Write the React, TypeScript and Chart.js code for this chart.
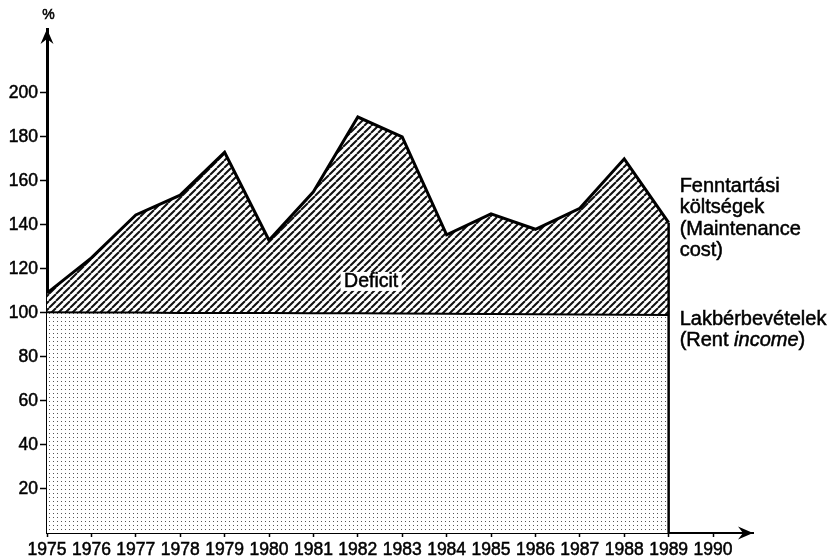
import React, { useEffect, useRef } from "react";
import { Chart, registerables } from "chart.js";

Chart.register(...registerables);

// ---- data ----
const years = [1975, 1976, 1977, 1978, 1979, 1980, 1981, 1982, 1983, 1984, 1985, 1986, 1987, 1988, 1989];
const maintenanceCost = [109, 125, 144.5, 153.5, 173, 133, 155, 189, 180, 135.5, 145, 138, 147.5, 170, 141];
const rentIncome = [100.3, 100.2, 100.2, 100, 100, 100, 99.8, 99.8, 99.7, 99.6, 99.5, 99.4, 99.3, 99.2, 99];
const xTickLabels = [1975, 1976, 1977, 1978, 1979, 1980, 1981, 1982, 1983, 1984, 1985, 1986, 1987, 1988, 1989, 1990];
const yTickLabels = [20, 40, 60, 80, 100, 120, 140, 160, 180, 200];

const maintenanceLabel = ["Fenntartási", "költségek", "(Maintenance", "cost)"];
const rentLabel = "Lakbérbevételek";
const deficitLabel = "Deficit";
const deficitAt = { x: 1982.3, y: 114.3 };

const FONT = "'Liberation Sans', Arial, Helvetica, sans-serif";
const STROKE = 0.5;

function makeHatch(ctx: CanvasRenderingContext2D) {
  const s = 7;
  const c = document.createElement("canvas");
  c.width = s;
  c.height = s;
  const g = c.getContext("2d")!;
  g.fillStyle = "#fff";
  g.fillRect(0, 0, s, s);
  g.strokeStyle = "#111";
  g.lineWidth = 2;
  g.beginPath();
  for (let k = -1; k <= 1; k++) {
    g.moveTo(k * s, s);
    g.lineTo(k * s + s, 0);
  }
  g.stroke();
  return ctx.createPattern(c, "repeat")!;
}

function makeDots(ctx: CanvasRenderingContext2D) {
  const s = 4;
  const c = document.createElement("canvas");
  c.width = s;
  c.height = s;
  const g = c.getContext("2d")!;
  g.fillStyle = "#fff";
  g.fillRect(0, 0, s, s);
  g.fillStyle = "#555";
  g.fillRect(1, 1, 1, 1);
  return ctx.createPattern(c, "repeat")!;
}

function boldText(ctx: CanvasRenderingContext2D, t: string, x: number, y: number) {
  ctx.fillText(t, x, y);
  ctx.lineWidth = STROKE;
  ctx.strokeStyle = "#000";
  ctx.strokeText(t, x, y);
}

const decorPlugin = {
  id: "decor",
  afterDatasetsDraw(chart: any) {
    const { ctx, scales } = chart;
    const xs = scales.x;
    const ys = scales.y;
    const last = years.length - 1;
    const xl = xs.getPixelForValue(years[last]);
    ctx.save();
    // right edge vertical line
    ctx.strokeStyle = "#000";
    ctx.lineWidth = 2.5;
    ctx.beginPath();
    ctx.moveTo(xl, ys.getPixelForValue(0));
    ctx.lineTo(xl, ys.getPixelForValue(maintenanceCost[last]));
    ctx.stroke();

    // Deficit label with white box
    ctx.font = `19.5px ${FONT}`;
    const dx = xs.getPixelForValue(deficitAt.x);
    const dy = ys.getPixelForValue(deficitAt.y);
    const w = ctx.measureText(deficitLabel).width;
    ctx.fillStyle = "#fff";
    ctx.fillRect(dx - w / 2 - 3.5, dy - 9.5, w + 7, 19);
    ctx.fillStyle = "#000";
    ctx.textAlign = "center";
    ctx.textBaseline = "middle";
    boldText(ctx, deficitLabel, dx, dy + 0.5);

    // right-side labels
    ctx.textAlign = "left";
    ctx.font = `20px ${FONT}`;
    const lx = xl + 11;
    const my = ys.getPixelForValue(maintenanceCost[last]) - 36;
    maintenanceLabel.forEach((t, i) => boldText(ctx, t, lx, my + i * 21.3));
    const ry = ys.getPixelForValue(rentIncome[last]) + 4;
    boldText(ctx, rentLabel, lx, ry);
    let cx = lx;
    const parts: [string, string][] = [
      ["(Rent ", "normal"],
      ["income", "italic"],
      [")", "normal"],
    ];
    for (const [t, st] of parts) {
      ctx.font = `${st} 20px ${FONT}`;
      boldText(ctx, t, cx, ry + 21);
      cx += ctx.measureText(t).width;
    }
    ctx.restore();
  },
  afterDraw(chart: any) {
    const { ctx, chartArea } = chart;
    const { left, top, right, bottom } = chartArea;
    ctx.save();
    ctx.fillStyle = "#000";
    // y arrow
    ctx.beginPath();
    ctx.moveTo(left, top);
    ctx.lineTo(left - 6.5, top + 15);
    ctx.lineTo(left, top + 10);
    ctx.lineTo(left + 6.5, top + 15);
    ctx.closePath();
    ctx.fill();
    // x arrow
    ctx.beginPath();
    ctx.moveTo(right, bottom);
    ctx.lineTo(right - 15, bottom - 6.5);
    ctx.lineTo(right - 10, bottom);
    ctx.lineTo(right - 15, bottom + 6.5);
    ctx.closePath();
    ctx.fill();
    // % label
    ctx.font = `14px ${FONT}`;
    ctx.textAlign = "center";
    ctx.textBaseline = "middle";
    boldText(ctx, "%", left + 1.5, 15.5);
    ctx.restore();
  },
};

export default function App() {
  const ref = useRef<HTMLCanvasElement>(null);
  useEffect(() => {
    const canvas = ref.current!;
    const ctx = canvas.getContext("2d")!;
    const hatch = makeHatch(ctx);
    const dots = makeDots(ctx);
    const chart = new Chart(ctx, {
      type: "line",
      data: {
        datasets: [
          {
            label: "Rent income",
            data: years.map((y, i) => ({ x: y, y: rentIncome[i] })),
            borderColor: "#000",
            borderWidth: 2,
            pointRadius: 0,
            fill: "origin",
            backgroundColor: dots,
            tension: 0,
            clip: false,
          },
          {
            label: "Maintenance cost",
            data: years.map((y, i) => ({ x: y, y: maintenanceCost[i] })),
            borderColor: "#000",
            borderWidth: 3,
            pointRadius: 0,
            fill: "-1",
            backgroundColor: hatch,
            tension: 0,
            borderJoinStyle: "miter",
            clip: false,
          },
        ],
      } as any,
      options: {
        animation: false,
        responsive: false,
        events: [],
        layout: { padding: { top: 29, right: 80, left: 0, bottom: 0 } },
        plugins: { legend: { display: false }, tooltip: { enabled: false } },
        scales: {
          x: {
            type: "linear",
            min: 1975,
            max: 1990.9,
            afterBuildTicks: (s: any) => {
              s.ticks = xTickLabels.map((v) => ({ value: v }));
            },
            afterFit: (s: any) => {
              s.height = 26;
            },
            ticks: {
              color: "#000",
              font: { family: FONT, size: 17.5 },
              padding: 3,
              autoSkip: false,
              maxRotation: 0,
              textStrokeColor: "#000",
              textStrokeWidth: STROKE,
              callback: (v: any) => String(v),
            },
            grid: { drawOnChartArea: false, drawTicks: true, tickLength: 4, tickColor: "#000", tickWidth: 1.5 },
            border: { color: "#000", width: 2 },
          },
          y: {
            type: "linear",
            min: 0,
            max: 229,
            afterBuildTicks: (s: any) => {
              s.ticks = yTickLabels.map((v) => ({ value: v }));
            },
            afterFit: (s: any) => {
              s.width = 47;
            },
            ticks: {
              color: "#000",
              font: { family: FONT, size: 17.5 },
              padding: 2,
              autoSkip: false,
              textStrokeColor: "#000",
              textStrokeWidth: STROKE,
              callback: (v: any) => String(v),
            },
            grid: { drawOnChartArea: false, drawTicks: true, tickLength: 7, tickColor: "#000", tickWidth: 1.5 },
            border: { color: "#000", width: 3 },
          },
        },
      } as any,
      plugins: [decorPlugin],
    });
    return () => chart.destroy();
  }, []);
  return (
    <div style={{ position: "absolute", left: 0, top: 0, width: 833, height: 559, background: "#fff" }}>
      <canvas ref={ref} width={833} height={559} style={{ display: "block", width: 833, height: 559 }} />
    </div>
  );
}
